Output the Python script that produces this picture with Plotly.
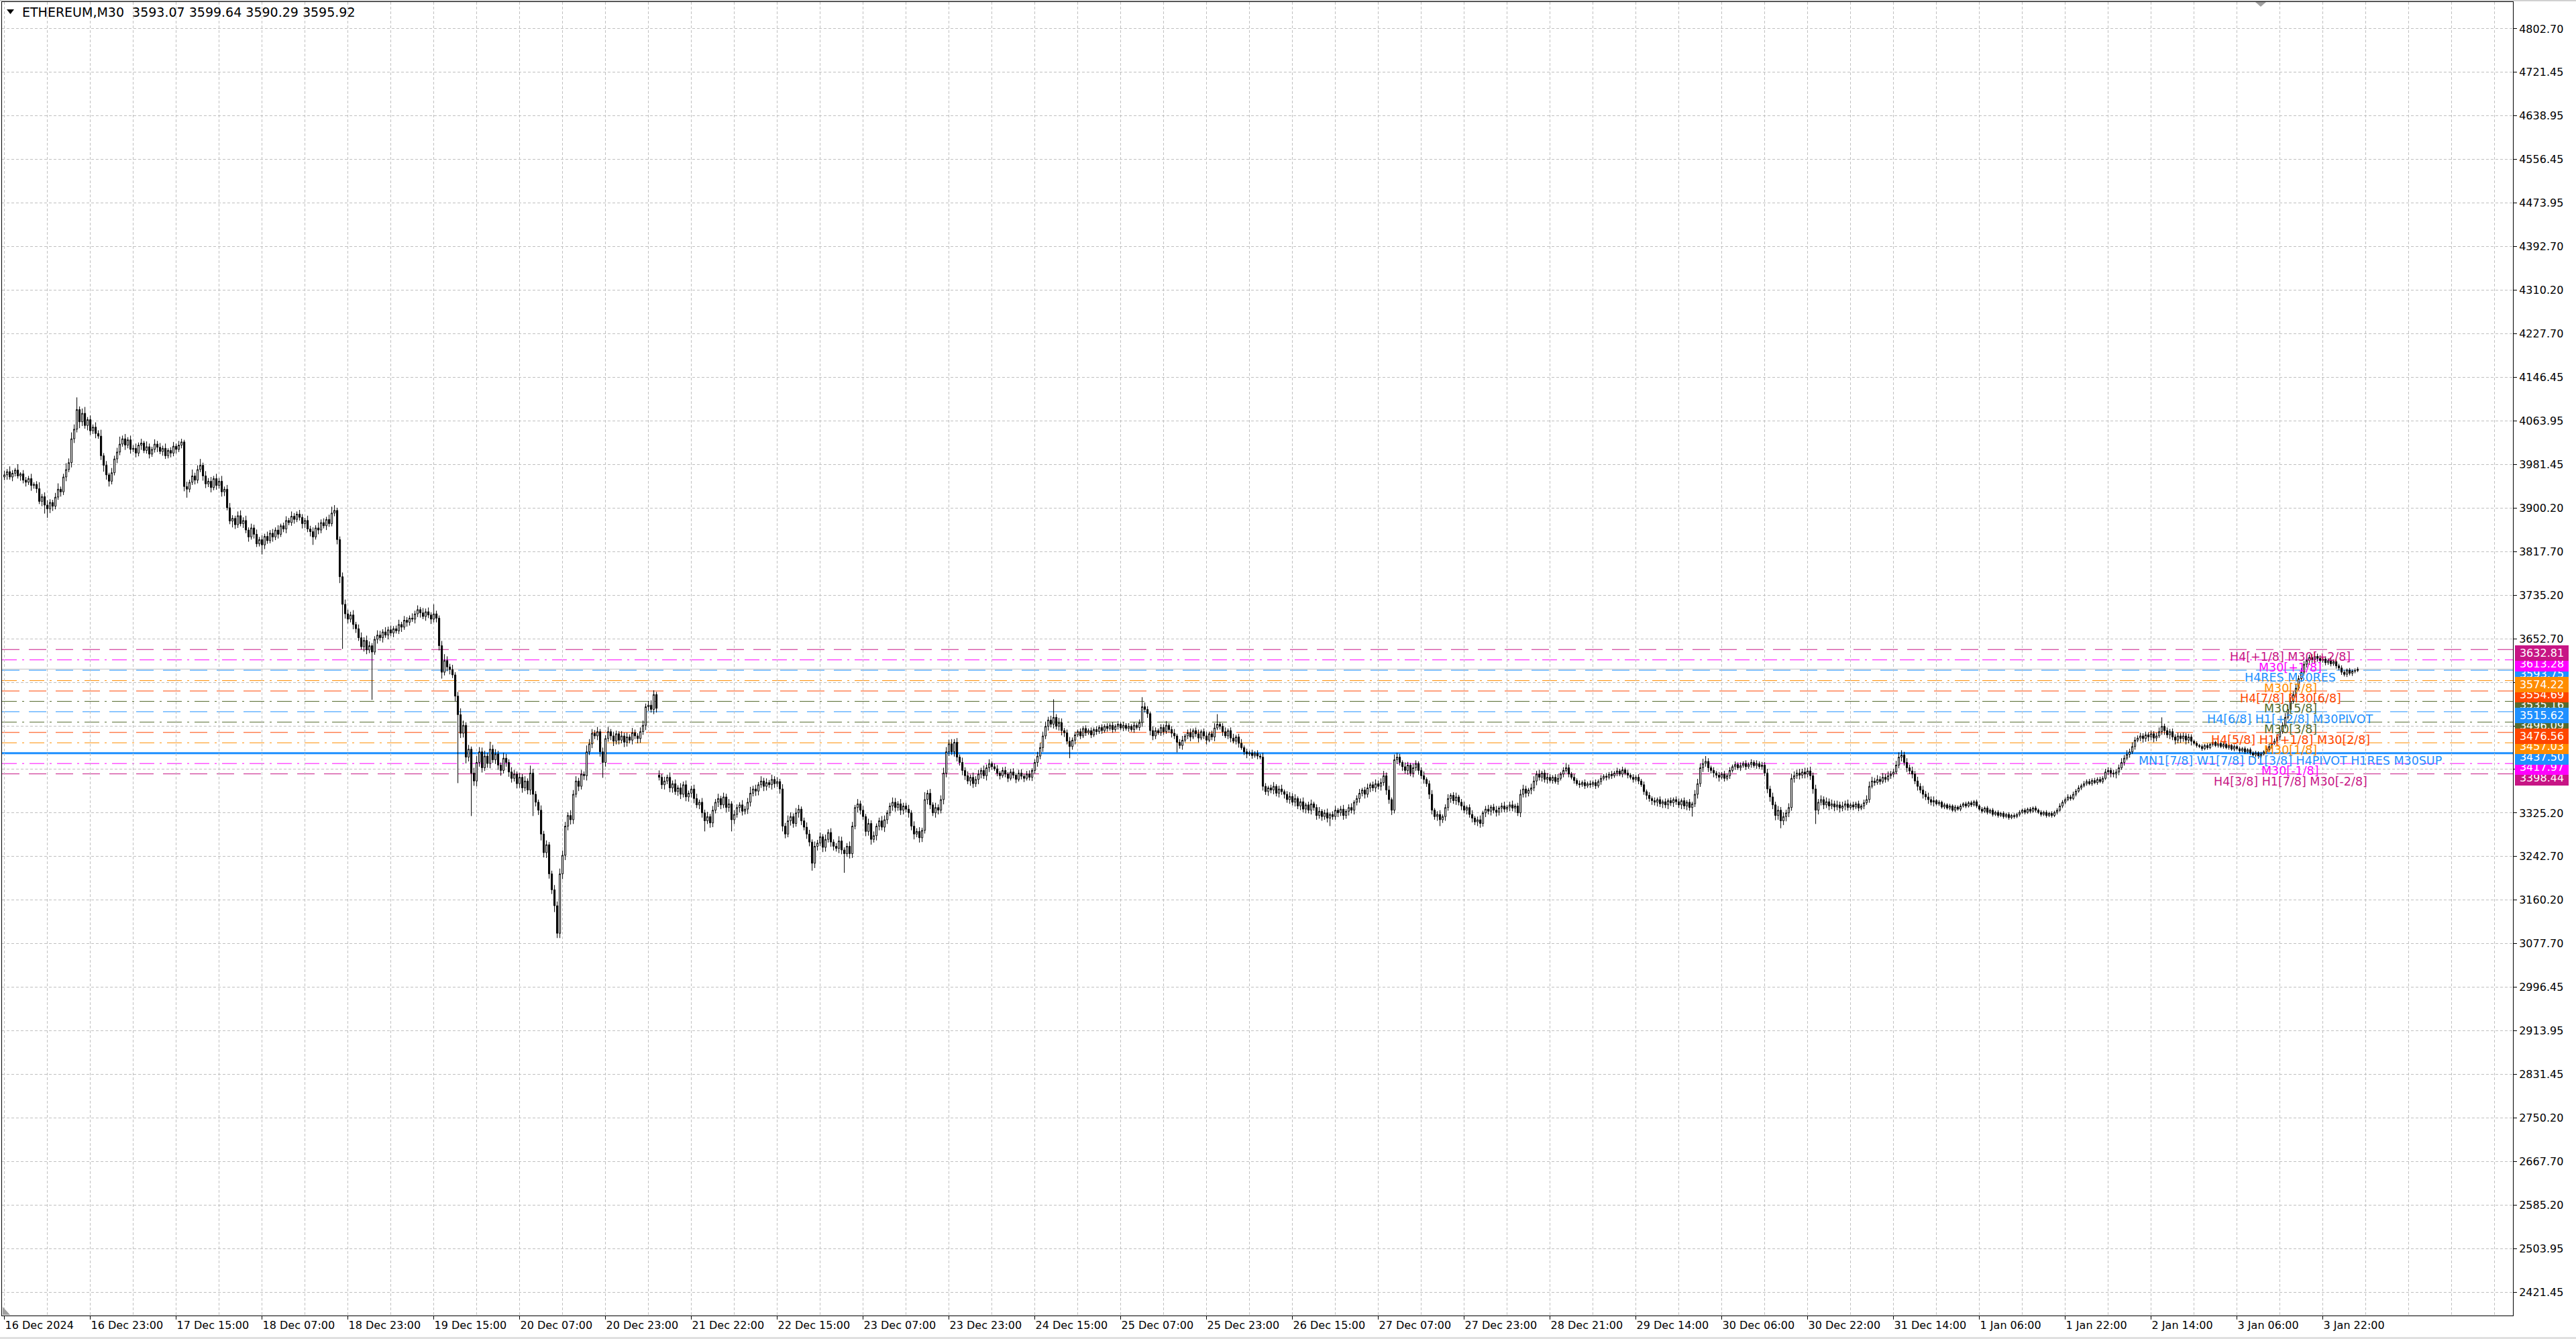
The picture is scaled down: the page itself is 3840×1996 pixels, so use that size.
import sys
import plotly.graph_objects as go

# ---------------- data ----------------
symbol_header = "ETHEREUM,M30\u00a0\u00a03593.07 3599.64 3590.29 3595.92"

x_labels = ["16 Dec 2024", "16 Dec 23:00", "17 Dec 15:00", "18 Dec 07:00", "18 Dec 23:00",
            "19 Dec 15:00", "20 Dec 07:00", "20 Dec 23:00", "21 Dec 22:00", "22 Dec 15:00",
            "23 Dec 07:00", "23 Dec 23:00", "24 Dec 15:00", "25 Dec 07:00", "25 Dec 23:00",
            "26 Dec 15:00", "27 Dec 07:00", "27 Dec 23:00", "28 Dec 21:00", "29 Dec 14:00",
            "30 Dec 06:00", "30 Dec 22:00", "31 Dec 14:00", "1 Jan 06:00", "1 Jan 22:00",
            "2 Jan 14:00", "3 Jan 06:00", "3 Jan 22:00"]
bars_per_label = 32

y_labels = ["4802.70", "4721.45", "4638.95", "4556.45", "4473.95", "4392.70", "4310.20",
            "4227.70", "4146.45", "4063.95", "3981.45", "3900.20", "3817.70", "3735.20",
            "3652.70", "", "", "", "3325.20", "3242.70", "3160.20", "3077.70", "2996.45",
            "2913.95", "2831.45", "2750.20", "2667.70", "2585.20", "2503.95", "2421.45"]
y_label_top = 4802.70
y_label_bottom = 2421.45

first_open = 3958
session_opens = {244: 3396}

closes = [
    3962, 3968, 3958, 3965, 3971, 3960, 3964, 3952, 3948, 3955, 3942, 3944, 3936, 3912, 3921, 3905,
    3898, 3910, 3903, 3920, 3935, 3930, 3958, 3972, 3985, 4030, 4048, 4085, 4062, 4078, 4055, 4066,
    4045, 4052, 4040, 4035, 3998, 3980, 3962, 3950, 3966, 3992, 4005, 4020, 4030, 4018, 4028, 4010,
    4012, 4003, 4018, 4022, 4008, 4015, 4001, 4010, 4020, 4014, 4006, 4012, 3998, 4008, 4003, 4016,
    4010, 4018, 4024, 3940, 3935, 3948, 3960, 3952, 3972, 3980, 3960, 3945, 3950, 3938, 3955, 3942,
    3950, 3930, 3935, 3900, 3875, 3880, 3868, 3885, 3870, 3876, 3858, 3845, 3862, 3850, 3832, 3840,
    3830, 3846, 3838, 3852, 3845, 3858, 3850, 3866, 3860, 3876, 3872, 3884, 3878, 3888, 3882, 3870,
    3876, 3860, 3855, 3845, 3862, 3858, 3872, 3866, 3878, 3870, 3890, 3895, 3840, 3770, 3718, 3700,
    3690, 3698, 3680, 3672, 3655, 3638, 3650, 3632, 3640, 3628, 3652, 3660, 3655, 3666, 3660, 3670,
    3664, 3672, 3668, 3680, 3675, 3688, 3684, 3692, 3690, 3700, 3708, 3702, 3695, 3704, 3698, 3690,
    3700, 3692, 3640, 3590, 3612, 3600, 3595, 3585, 3545, 3510, 3475, 3490, 3430, 3445, 3400, 3385,
    3420, 3440, 3410, 3432, 3418, 3445, 3425, 3436, 3415, 3405, 3428, 3420, 3402, 3390, 3398, 3380,
    3392, 3372, 3385, 3368, 3400, 3360, 3345, 3330, 3285, 3250, 3265, 3210, 3180, 3150, 3098, 3210,
    3245, 3300, 3320, 3312, 3360, 3385, 3375, 3398, 3395, 3440, 3455, 3475, 3470, 3478, 3440, 3420,
    3465, 3478, 3470, 3460, 3474, 3462, 3470, 3458, 3468, 3462, 3476, 3470, 3465, 3478, 3490, 3525,
    3528, 3520, 3548, 3522, 3392, 3378, 3385, 3392, 3372, 3380, 3365, 3372, 3360, 3378, 3355, 3362,
    3370, 3352, 3340, 3345, 3325, 3310, 3318, 3306, 3330, 3345, 3352, 3340, 3355, 3335, 3342, 3312,
    3322, 3335, 3340, 3328, 3332, 3345, 3362, 3370, 3366, 3378, 3385, 3375, 3382, 3378, 3388, 3380,
    3384, 3370, 3300, 3285, 3310, 3318, 3305, 3325, 3332, 3310, 3298, 3285, 3270, 3230, 3262, 3268,
    3280, 3260, 3275, 3288, 3270, 3262, 3258, 3272, 3255, 3248, 3262, 3248, 3300, 3335, 3342, 3330,
    3318, 3290, 3305, 3275, 3282, 3300, 3310, 3298, 3312, 3325, 3338, 3345, 3335, 3342, 3330, 3338,
    3332, 3325, 3300, 3285, 3290, 3278, 3292, 3350, 3362, 3340, 3325, 3335, 3330, 3350, 3400, 3440,
    3455, 3440, 3458, 3430, 3420, 3405, 3395, 3385, 3392, 3380, 3388, 3398, 3405, 3395, 3410, 3418,
    3412, 3408, 3400, 3395, 3405, 3398, 3390, 3402, 3396, 3388, 3400, 3394, 3390, 3398, 3392, 3405,
    3420, 3432, 3448, 3470, 3488, 3500, 3492, 3505, 3488, 3495, 3480, 3476, 3460, 3450, 3462, 3472,
    3478, 3470, 3484, 3476, 3480, 3472, 3482, 3478, 3486, 3480, 3488, 3484, 3490, 3482, 3488, 3492,
    3485, 3490, 3484, 3488, 3482, 3490, 3486, 3495, 3525, 3520, 3512, 3480, 3470, 3480, 3476, 3486,
    3478, 3490, 3482, 3475, 3470, 3458, 3452, 3462, 3470, 3476, 3468, 3480, 3474, 3466, 3478, 3470,
    3462, 3474, 3468, 3485, 3492, 3488, 3478, 3470, 3480, 3466, 3460, 3468, 3456, 3448, 3440, 3436,
    3438, 3433, 3437, 3432, 3430, 3375, 3365, 3372, 3368, 3375, 3362, 3370, 3365, 3360, 3350, 3356,
    3345, 3352, 3338, 3346, 3332, 3340, 3330, 3342, 3335, 3320, 3328, 3318, 3325, 3315, 3322, 3318,
    3330, 3325, 3332, 3320, 3328, 3335, 3330, 3345, 3352, 3362, 3368, 3360, 3372, 3378, 3372, 3380,
    3375, 3382, 3395, 3368, 3350, 3330, 3425, 3430, 3420, 3412, 3405, 3415, 3400, 3410, 3418, 3405,
    3395, 3388, 3380, 3360, 3330, 3318, 3322, 3312, 3318, 3335, 3352, 3358, 3348, 3355, 3345, 3338,
    3330, 3335, 3322, 3315, 3308, 3312, 3305, 3325, 3332, 3328, 3336, 3330, 3326, 3334, 3338, 3332,
    3336, 3340, 3334, 3338, 3325, 3360, 3370, 3362, 3368, 3372, 3385, 3398, 3392, 3400, 3388, 3392,
    3386, 3392, 3384, 3390, 3398, 3405, 3410, 3398, 3392, 3386, 3380, 3378, 3382, 3376, 3380, 3378,
    3382, 3376, 3384, 3390, 3394, 3392, 3398, 3395, 3400, 3404, 3398, 3406, 3400, 3396, 3392, 3388,
    3392, 3385, 3378, 3365, 3358, 3352, 3348, 3345, 3350, 3342, 3346, 3340, 3348, 3344, 3350, 3346,
    3340, 3348, 3338, 3345, 3335, 3342, 3360, 3380, 3410, 3418, 3422, 3410, 3405, 3400, 3396, 3392,
    3398, 3390, 3395, 3405, 3412, 3416, 3410, 3414, 3418, 3412, 3416, 3420, 3414, 3418, 3412, 3415,
    3400, 3370, 3355, 3340, 3320, 3330, 3310, 3318, 3325, 3335, 3390, 3395, 3400, 3396, 3402, 3398,
    3404, 3395, 3370, 3330, 3345, 3350, 3340, 3346, 3338, 3342, 3336, 3340, 3334, 3338, 3342, 3335,
    3340, 3336, 3342, 3334, 3338, 3344, 3350, 3375, 3385, 3382, 3388, 3384, 3392, 3388, 3395, 3398,
    3402, 3415, 3430, 3434, 3420, 3410, 3404, 3398, 3385, 3375, 3368, 3360, 3355, 3350, 3345, 3348,
    3342, 3345, 3336, 3340, 3334, 3338, 3330, 3336, 3332, 3338, 3342, 3338, 3344, 3340, 3346, 3338,
    3332, 3328, 3334, 3326, 3330, 3322, 3326, 3320, 3324, 3318, 3322, 3316, 3320, 3318, 3322, 3326,
    3330, 3326, 3332, 3328, 3334, 3330, 3326, 3322, 3326, 3320, 3324, 3320, 3326, 3330, 3338, 3345,
    3350, 3355, 3352, 3360, 3366, 3372, 3376, 3380, 3384, 3380, 3386, 3382, 3388, 3384, 3390, 3402,
    3405, 3400, 3398, 3402, 3410, 3420, 3428, 3435, 3440, 3450, 3462, 3466, 3470, 3465, 3472, 3468,
    3474, 3466, 3470, 3478, 3488, 3480, 3472, 3478, 3468, 3462, 3470, 3465, 3470, 3462, 3468, 3460,
    3456, 3452, 3450, 3446, 3452, 3448, 3454, 3458, 3452, 3456, 3450, 3454, 3448, 3452, 3445, 3450,
    3446, 3442, 3446, 3440, 3444, 3438, 3434, 3438, 3432, 3436, 3440, 3445, 3450, 3456, 3460, 3468,
    3478, 3490, 3505, 3520, 3535, 3548, 3560, 3578, 3590, 3605, 3612, 3618, 3614, 3620, 3616, 3612,
    3615, 3608, 3612, 3606, 3610, 3602, 3598, 3590, 3586, 3594, 3588, 3592, 3593.07, 3595.92,
]

upper_wicks = [
    8, 5, 10, 6, 4, 11, 3, 7, 6, 5, 9, 4, 6, 12, 5, 8,
    9, 6, 5, 8, 11, 5, 6, 12, 8, 12, 9, 23, 6, 9, 12, 5,
    8, 5, 9, 6, 12, 5, 8, 4, 9, 6, 8, 14, 6, 9, 5, 8,
    6, 9, 5, 8, 4, 10, 6, 5, 9, 6, 8, 5, 9, 4, 6, 8,
    5, 8, 6, 4, 9, 5, 12, 6, 8, 12, 5, 9, 6, 8, 5, 9,
    6, 10, 5, 8, 9, 6, 5, 8, 10, 6, 9, 5, 8, 6, 9, 5,
    8, 5, 9, 6, 8, 5, 9, 4, 6, 8, 5, 9, 6, 5, 8, 6,
    5, 9, 6, 8, 5, 10, 6, 8, 5, 9, 12, 10, 5, 6, 8, 9,
    8, 6, 9, 5, 8, 10, 6, 9, 8, 5, 6, 9, 8, 5, 9, 6,
    8, 5, 6, 9, 5, 8, 6, 5, 9, 6, 8, 5, 9, 6, 8, 5,
    18, 6, 5, 9, 12, 8, 6, 9, 5, 8, 12, 9, 6, 8, 5, 10,
    12, 9, 8, 10, 6, 14, 8, 9, 6, 5, 10, 8, 6, 9, 8, 5,
    8, 6, 9, 5, 14, 8, 6, 5, 9, 6, 8, 5, 6, 9, 8, 10,
    9, 8, 6, 10, 8, 9, 6, 8, 5, 12, 9, 8, 6, 9, 5, 8,
    6, 9, 5, 8, 6, 5, 9, 6, 8, 5, 9, 6, 5, 8, 9, 6,
    8, 9, 8, 5, 9, 6, 8, 5, 9, 6, 8, 5, 9, 6, 8, 5,
    6, 8, 9, 5, 8, 6, 9, 5, 8, 6, 9, 5, 8, 6, 9, 5,
    8, 6, 5, 9, 6, 8, 12, 6, 8, 5, 9, 6, 8, 5, 9, 6,
    8, 5, 9, 6, 10, 8, 6, 9, 8, 5, 6, 9, 8, 5, 9, 6,
    8, 5, 9, 6, 8, 5, 6, 9, 8, 5, 6, 9, 8, 5, 9, 6,
    8, 5, 9, 6, 8, 5, 6, 9, 8, 5, 6, 9, 8, 5, 9, 6,
    6, 8, 5, 9, 6, 8, 5, 14, 6, 8, 5, 9, 6, 8, 10, 9,
    8, 9, 6, 8, 5, 9, 6, 8, 5, 9, 6, 8, 5, 9, 6, 8,
    4, 6, 7, 4, 6, 7, 4, 6, 7, 4, 6, 7, 4, 6, 7, 4,
    6, 8, 9, 8, 9, 6, 8, 34, 6, 9, 8, 5, 6, 8, 5, 6,
    4, 6, 4, 6, 4, 6, 4, 6, 4, 6, 4, 6, 4, 6, 4, 6,
    4, 6, 4, 6, 4, 6, 4, 6, 18, 8, 6, 4, 8, 6, 4, 6,
    6, 8, 4, 6, 8, 4, 6, 8, 4, 6, 8, 4, 6, 8, 4, 6,
    8, 4, 6, 9, 19, 4, 6, 8, 4, 6, 8, 4, 6, 8, 4, 6,
    4, 6, 4, 6, 4, 8, 6, 4, 6, 8, 4, 6, 8, 4, 6, 8,
    6, 8, 4, 6, 8, 4, 6, 8, 4, 6, 8, 4, 6, 8, 4, 6,
    8, 4, 6, 8, 4, 6, 8, 4, 6, 8, 4, 6, 8, 4, 6, 8,
    6, 8, 9, 6, 8, 4, 10, 8, 6, 4, 8, 6, 4, 8, 6, 4,
    6, 8, 4, 6, 8, 4, 6, 8, 4, 6, 8, 4, 6, 8, 4, 6,
    8, 4, 6, 8, 4, 6, 8, 4, 6, 8, 4, 6, 8, 4, 6, 8,
    4, 6, 8, 4, 6, 9, 8, 6, 4, 8, 9, 6, 8, 4, 6, 8,
    6, 4, 6, 8, 4, 6, 9, 6, 4, 6, 4, 6, 4, 6, 4, 6,
    4, 6, 4, 6, 4, 6, 4, 6, 4, 6, 4, 6, 4, 6, 4, 6,
    4, 6, 4, 6, 4, 6, 4, 6, 4, 6, 4, 6, 4, 6, 4, 6,
    6, 4, 6, 4, 6, 4, 8, 9, 8, 9, 10, 6, 4, 6, 4, 6,
    4, 6, 4, 6, 4, 6, 4, 6, 4, 6, 4, 6, 4, 6, 4, 6,
    6, 8, 6, 8, 6, 8, 6, 8, 6, 8, 9, 8, 6, 8, 6, 8,
    6, 8, 6, 8, 6, 8, 6, 8, 6, 8, 6, 8, 6, 8, 6, 8,
    4, 6, 4, 6, 4, 6, 8, 9, 8, 6, 8, 6, 8, 6, 8, 6,
    6, 8, 9, 9, 6, 8, 6, 8, 6, 8, 6, 8, 6, 8, 6, 8,
    3, 4, 3, 4, 3, 4, 3, 4, 3, 4, 3, 4, 3, 4, 3, 4,
    3, 4, 3, 4, 3, 4, 3, 4, 3, 4, 3, 4, 3, 4, 3, 4,
    3, 4, 3, 4, 3, 4, 3, 4, 3, 4, 3, 4, 3, 4, 5, 4,
    4, 5, 4, 5, 4, 5, 4, 5, 4, 5, 4, 5, 4, 5, 4, 6,
    6, 5, 6, 5, 6, 8, 6, 8, 6, 8, 6, 5, 6, 5, 6, 5,
    6, 5, 6, 8, 17, 5, 6, 5, 6, 5, 6, 5, 6, 5, 6, 5,
    3, 4, 3, 4, 3, 4, 3, 4, 3, 4, 3, 4, 3, 4, 3, 4,
    3, 4, 3, 4, 3, 4, 3, 4, 3, 4, 3, 4, 5, 4, 5, 6,
    8, 6, 8, 9, 8, 6, 8, 6, 8, 6, 8, 5, 6, 9, 5, 6,
    4, 5, 4, 5, 4, 5, 4, 5, 4, 3, 4, 3, 4, 3.72,
]

lower_wicks = [
    6, 9, 5, 8, 6, 5, 9, 6, 8, 5, 10, 6, 8, 5, 9, 16,
    17, 8, 9, 6, 5, 9, 6, 8, 5, 9, 8, 6, 12, 8, 6, 9,
    8, 6, 9, 5, 8, 12, 9, 10, 6, 5, 8, 6, 5, 9, 6, 8,
    5, 8, 6, 9, 5, 6, 8, 5, 6, 9, 5, 8, 6, 5, 8, 6,
    8, 5, 6, 9, 16, 6, 5, 8, 6, 5, 9, 8, 6, 9, 5, 8,
    6, 9, 8, 5, 6, 12, 8, 6, 5, 8, 6, 9, 5, 8, 6, 5,
    18, 8, 6, 5, 9, 6, 8, 5, 6, 8, 5, 6, 8, 5, 6, 9,
    8, 6, 9, 15, 5, 8, 6, 5, 8, 6, 5, 6, 9, 12, 84, 9,
    8, 6, 9, 8, 6, 5, 9, 8, 6, 90, 5, 8, 6, 9, 5, 8,
    6, 8, 5, 6, 9, 5, 8, 6, 5, 8, 6, 9, 5, 8, 6, 9,
    6, 8, 9, 12, 6, 8, 9, 6, 10, 129, 9, 8, 12, 8, 81, 9,
    10, 8, 9, 6, 8, 9, 6, 8, 9, 10, 6, 8, 9, 8, 6, 9,
    8, 9, 6, 8, 9, 41, 8, 9, 12, 9, 10, 9, 8, 12, 9, 9,
    10, 9, 8, 9, 8, 6, 9, 6, 8, 9, 6, 8, 6, 8, 9, 29,
    8, 6, 8, 9, 6, 8, 6, 9, 8, 6, 8, 6, 9, 8, 6, 9,
    8, 6, 9, 8, 6, 8, 9, 6, 8, 9, 6, 8, 9, 6, 8, 9,
    8, 9, 6, 8, 9, 20, 6, 9, 8, 6, 9, 8, 6, 9, 8, 22,
    8, 6, 9, 8, 6, 9, 8, 6, 9, 8, 6, 9, 8, 6, 9, 8,
    6, 9, 10, 8, 6, 9, 8, 6, 9, 8, 6, 9, 8, 14, 9, 8,
    6, 9, 8, 6, 9, 8, 6, 9, 8, 36, 6, 9, 8, 6, 9, 8,
    6, 9, 8, 10, 6, 9, 8, 6, 9, 8, 6, 9, 8, 6, 9, 8,
    6, 9, 8, 10, 6, 9, 8, 6, 9, 8, 6, 9, 8, 6, 9, 8,
    8, 6, 9, 8, 6, 9, 8, 6, 9, 8, 6, 9, 8, 6, 9, 8,
    6, 4, 6, 7, 4, 6, 7, 4, 6, 7, 4, 6, 7, 4, 6, 7,
    6, 8, 6, 8, 6, 8, 6, 8, 6, 8, 9, 8, 6, 22, 6, 8,
    4, 6, 4, 6, 4, 6, 4, 6, 4, 6, 4, 6, 4, 6, 4, 6,
    4, 6, 4, 6, 4, 6, 4, 6, 8, 6, 8, 9, 8, 6, 4, 6,
    6, 4, 6, 8, 6, 19, 6, 8, 4, 6, 8, 4, 6, 8, 4, 6,
    8, 4, 6, 8, 4, 6, 8, 4, 6, 8, 4, 6, 8, 4, 6, 8,
    4, 6, 4, 6, 4, 8, 6, 8, 6, 8, 6, 8, 6, 8, 6, 8,
    6, 8, 6, 8, 6, 8, 6, 8, 6, 8, 6, 8, 6, 8, 15, 6,
    6, 8, 6, 8, 6, 8, 6, 8, 6, 8, 6, 8, 6, 8, 6, 8,
    6, 8, 6, 9, 8, 9, 6, 8, 6, 8, 6, 8, 6, 8, 6, 8,
    6, 8, 6, 9, 8, 6, 8, 12, 6, 8, 6, 8, 6, 8, 6, 8,
    6, 8, 6, 8, 6, 8, 8, 6, 8, 6, 8, 6, 8, 6, 8, 6,
    6, 8, 6, 8, 6, 8, 6, 8, 6, 8, 6, 8, 6, 8, 6, 8,
    4, 6, 4, 6, 4, 6, 4, 6, 4, 6, 4, 6, 4, 6, 4, 6,
    4, 6, 4, 6, 4, 6, 4, 6, 4, 6, 4, 6, 4, 6, 4, 6,
    4, 6, 4, 6, 8, 6, 8, 6, 8, 6, 8, 6, 8, 6, 8, 6,
    6, 8, 6, 8, 6, 17, 6, 8, 6, 8, 6, 8, 6, 8, 6, 8,
    4, 6, 4, 6, 4, 6, 4, 6, 4, 6, 4, 6, 4, 6, 4, 6,
    6, 8, 9, 8, 9, 8, 14, 8, 9, 8, 6, 8, 6, 8, 6, 8,
    6, 8, 9, 26, 8, 6, 8, 6, 8, 6, 8, 6, 8, 6, 8, 6,
    4, 6, 4, 6, 4, 6, 4, 6, 4, 6, 4, 6, 4, 6, 4, 6,
    6, 4, 6, 8, 6, 8, 6, 8, 6, 8, 6, 8, 6, 8, 6, 8,
    3, 4, 3, 4, 3, 4, 3, 4, 3, 4, 3, 4, 3, 4, 3, 4,
    3, 4, 3, 4, 3, 4, 3, 4, 3, 4, 3, 4, 3, 4, 3, 4,
    3, 4, 3, 4, 3, 4, 3, 4, 3, 4, 3, 4, 3, 4, 3, 4,
    4, 3, 4, 3, 4, 3, 4, 3, 4, 3, 4, 3, 4, 3, 4, 3,
    6, 8, 6, 8, 6, 4, 6, 4, 6, 4, 6, 4, 6, 8, 6, 8,
    6, 8, 6, 4, 6, 8, 6, 8, 6, 8, 6, 8, 6, 8, 6, 8,
    3, 4, 3, 4, 3, 4, 3, 4, 3, 4, 3, 4, 3, 4, 3, 4,
    3, 4, 3, 4, 3, 4, 5, 4, 5, 4, 3, 4, 3, 4, 3, 4,
    6, 4, 6, 4, 6, 4, 6, 4, 6, 4, 6, 8, 6, 8, 6, 8,
    4, 5, 4, 5, 4, 5, 4, 5, 4, 5, 4, 5, 4, 2.78,
]

level_prices = [3632.81, 3613.28, 3593.75, 3574.22, 3554.69, 3535.16, 3515.62,
                3496.09, 3476.56, 3457.03, 3437.50, 3417.97, 3398.44]
level_texts = ["H4[+1/8] M30[+2/8]", "M30[+1/8]", "H4RES M30RES", "M30[7/8]",
               "H4[7/8] M30[6/8]", "M30[5/8]", "H4[6/8] H1[+2/8] M30PIVOT", "M30[3/8]",
               "H4[5/8] H1[+1/8] M30[2/8]", "M30[1/8]",
               "MN1[7/8] W1[7/8] D1[3/8] H4PIVOT H1RES M30SUP", "M30[-1/8]",
               "H4[3/8] H1[7/8] M30[-2/8]"]
level_colors = ["#C71585", "#FF00FF", "#1E90FF", "#FF8C00", "#FF4500", "#556B2F", "#1E90FF",
                "#556B2F", "#FF4500", "#FF8C00", "#1E90FF", "#FF00FF", "#C71585"]
level_styles = ["dash", "dashdot", "dash", "dashdot", "dash", "dashdot", "dash",
                "dashdot", "dash", "dashdot", "solid", "dashdot", "dash"]
bid_price = 3595.92

# ---------------- geometry / styles ----------------
W, H = 3840, 1996
ML, MR, MT, MB = 3, 94, 3, 35
PLOT_W = W - ML - MR
PLOT_H = H - MT - MB
BAR_PX = 4.0          # pixels per bar
BAR0_PX = 6.6         # pixel x of first bar
PX_PER_PRICE = 1 / 1.2643
Y_TICK_TOP_PX = 42.9
LABEL_BAR = 851.9
FONT = "DejaVu Sans"

n = min(len(closes), len(upper_wicks), len(lower_wicks))
print("bars:", len(closes), len(upper_wicks), len(lower_wicks), file=sys.stderr)
closes = closes[:n]

opens = []
for i in range(n):
    if i == 0:
        opens.append(first_open)
    elif i in session_opens:
        opens.append(session_opens[i])
    else:
        opens.append(closes[i - 1])
highs = [max(o, c) + u for o, c, u in zip(opens, closes, upper_wicks)]
lows = [min(o, c) - d for o, c, d in zip(opens, closes, lower_wicks)]
xs = list(range(n))


def px_x_to_bar(px):
    return (px - BAR0_PX) / BAR_PX


def px_y_to_price(py):
    return y_label_top - (py - Y_TICK_TOP_PX) / PX_PER_PRICE


def pxx(px):
    return (px - ML) / PLOT_W


def pxy(py):
    return (H - MB - py) / PLOT_H


x_range = [px_x_to_bar(ML), px_x_to_bar(W - MR)]
y_range = [px_y_to_price(H - MB), px_y_to_price(MT)]

step = (y_label_top - y_label_bottom) / (len(y_labels) - 1)
y_tickvals = [y_label_top - k * step for k in range(len(y_labels))]

x_tickvals = [k * bars_per_label for k in range(len(x_labels))]
last_grid = int(px_x_to_bar(W - MR))
minor_vals = [v for v in range(0, last_grid + 1, bars_per_label // 2) if v not in x_tickvals]

GRID = "#c0c0c0"
DASHMAP = {"dash": "26px,14px", "dashdot": "22px,8px,3px,8px", "solid": "solid"}

fig = go.Figure()
fig.add_trace(go.Candlestick(
    x=xs, open=opens, high=highs, low=lows, close=closes,
    increasing=dict(line=dict(color="black", width=1), fillcolor="white"),
    decreasing=dict(line=dict(color="black", width=1), fillcolor="black"),
    whiskerwidth=0, showlegend=False, hoverinfo="skip"))

shapes = []
shapes.append(dict(type="line", xref="paper", x0=0, x1=1, yref="y", y0=bid_price, y1=bid_price,
                   line=dict(color="#c0c0c0", width=1), layer="between"))
for p, c, s in zip(level_prices, level_colors, level_styles):
    shapes.append(dict(type="line", xref="paper", x0=0, x1=1, yref="y", y0=p, y1=p,
                       line=dict(color=c, width=3 if s == "solid" else 1, dash=DASHMAP[s]),
                       layer="between"))

shapes.append(dict(type="path", xref="paper", yref="paper",
                   path=f"M {pxx(10)},{pxy(14)} L {pxx(21)},{pxy(14)} L {pxx(15.5)},{pxy(21)} Z",
                   fillcolor="black", line=dict(width=0)))
shapes.append(dict(type="path", xref="paper", yref="paper",
                   path=f"M {pxx(3362)},{pxy(3)} L {pxx(3378)},{pxy(3)} L {pxx(3370)},{pxy(10)} Z",
                   fillcolor="#a0a0a0", line=dict(width=0)))
shapes.append(dict(type="path", xref="paper", yref="paper",
                   path=f"M {pxx(4)},{pxy(1948)} L {pxx(4)},{pxy(1960)} L {pxx(15)},{pxy(1960)} Z",
                   fillcolor="#a0a0a0", line=dict(width=0)))
shapes.append(dict(type="rect", xref="paper", yref="paper", x0=pxx(0), x1=pxx(W), y0=pxy(0), y1=pxy(2),
                   fillcolor="#d0d0d0", line=dict(width=0)))
shapes.append(dict(type="rect", xref="paper", yref="paper", x0=pxx(0), x1=pxx(W), y0=pxy(1993), y1=pxy(H),
                   fillcolor="#e0e0e0", line=dict(width=0)))

annotations = []
annotations.append(dict(xref="paper", yref="paper", x=pxx(31), y=pxy(18), xanchor="left", yanchor="middle",
                        text=symbol_header, showarrow=False,
                        font=dict(family=FONT, size=19, color="black")))
for p, t, c in zip(level_prices, level_texts, level_colors):
    annotations.append(dict(xref="x", yref="y", x=LABEL_BAR, y=p, xanchor="center", yanchor="top",
                            text=t, showarrow=False, borderpad=0,
                            font=dict(family=FONT, size=17.5, color=c)))

order = list(range(len(level_prices) - 1, -1, -1))
front = [3, 6, 8]
order = [i for i in order if i not in front] + front
for i in order:
    annotations.append(dict(xref="paper", yref="y", x=pxx(3749), y=level_prices[i],
                            xanchor="left", yanchor="middle", yshift=-5.5,
                            text=f"{level_prices[i]:.2f}", showarrow=False,
                            width=80, height=23, align="center", bgcolor=level_colors[i],
                            borderpad=0, borderwidth=0,
                            font=dict(family=FONT, size=16, color="white")))

fig.update_layout(
    width=W, height=H,
    margin=dict(l=ML, r=MR, t=MT, b=MB, pad=0),
    paper_bgcolor="white", plot_bgcolor="white",
    showlegend=False,
    boxgap=0.25,
    shapes=shapes, annotations=annotations,
    xaxis=dict(range=x_range, tickmode="array", tickvals=x_tickvals, ticktext=x_labels,
               ticks="outside", ticklen=5, tickcolor="black", tickwidth=1,
               ticklabelposition="outside right",
               tickfont=dict(family=FONT, size=16, color="black"),
               showgrid=True, gridcolor=GRID, gridwidth=1, griddash="4px,3px",
               minor=dict(tickvals=minor_vals, showgrid=True, gridcolor=GRID, gridwidth=1,
                          griddash="4px,3px", ticks=""),
               showline=True, linecolor="black", linewidth=1, mirror=True,
               zeroline=False, rangeslider=dict(visible=False), fixedrange=True),
    yaxis=dict(side="right", range=y_range, tickmode="array", tickvals=y_tickvals, ticktext=y_labels,
               ticks="outside", ticklen=5, tickcolor="black", tickwidth=1,
               tickfont=dict(family=FONT, size=16, color="black"),
               showgrid=True, gridcolor=GRID, gridwidth=1, griddash="4px,3px",
               showline=True, linecolor="black", linewidth=1, mirror=True,
               zeroline=False, fixedrange=True),
)

fig.write_html("out.html",
               config={"displayModeBar": False, "staticPlot": True},
               post_script="document.body.style.margin='0px';document.body.style.padding='0px';")
